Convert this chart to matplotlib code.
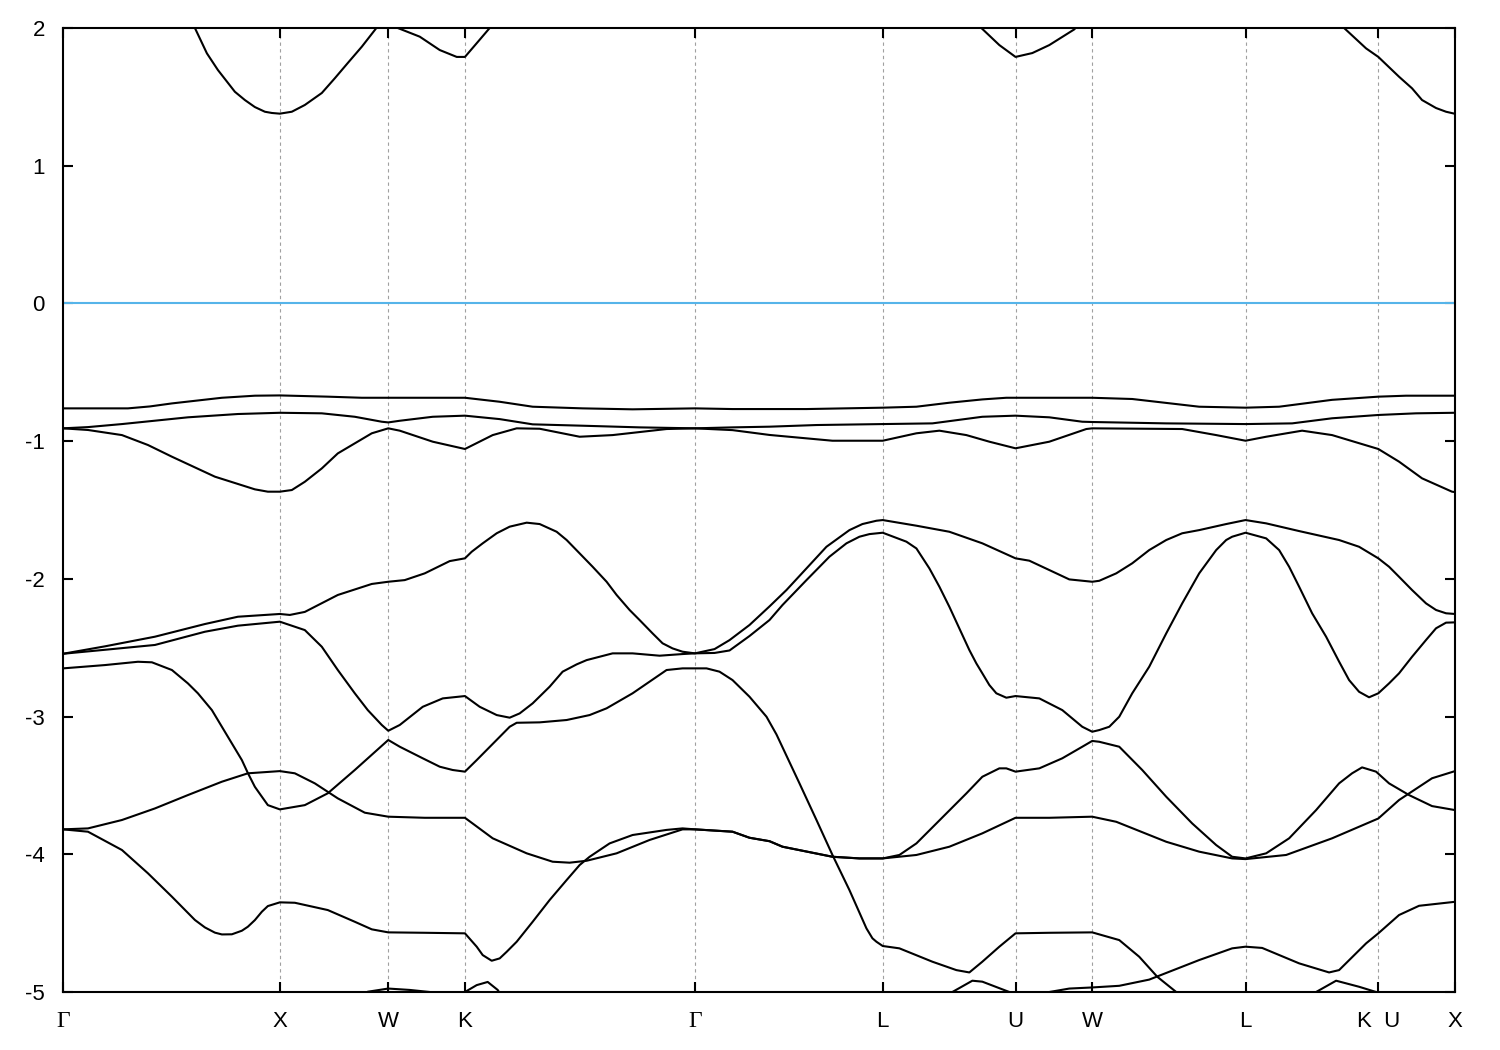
import numpy as np
import matplotlib
matplotlib.use("Agg")
import matplotlib.pyplot as plt
import matplotlib.transforms as mtransforms

plt.rcParams['font.family'] = ['Liberation Sans', 'DejaVu Sans']
plt.rcParams['axes.unicode_minus'] = False

nan = np.nan

# high-symmetry path (k in units of 2*pi/a)
tick_pos = [0, 1.0, 1.5, 1.8536, 2.9142, 3.7802, 4.3926, 4.7462, 5.4533, 6.0657, 6.4193]
tick_lab = ['Γ', 'X', 'W', 'K', 'Γ', 'L', 'U', 'W', 'L', 'K  U', 'X']
e_ticks = [-5, -4, -3, -2, -1, 0, 1, 2]

# conduction band (only parts below 2 eV visible)
k_c1 = [0.5622, 0.6083, 0.6636, 0.7143, 0.7926, 0.8387, 0.8848, 0.9309, 0.9631, 1.0, 1.0553, 1.1152, 1.1935,
        1.2535, 1.3134, 1.3779, 1.4378, 1.4839, nan,
        1.5161, 1.5438, 1.6452, 1.7373, 1.8157, 1.8536, 1.9124, 1.9677, 1.9954, nan,
        4.2028, 4.2350, 4.3180, 4.3926, 4.4700, 4.5484, 4.6636, 4.6959, nan,
        5.8756, 5.9078, 6.0092, 6.0657, 6.1613, 6.2212, 6.2673, 6.3318, 6.3779, 6.4193]
e_c1 = [2.14, 2.00, 1.816, 1.695, 1.537, 1.477, 1.426, 1.392, 1.383, 1.378, 1.392, 1.441, 1.528,
        1.635, 1.746, 1.864, 1.985, 2.08, nan,
        2.06, 2.00, 1.937, 1.84, 1.79, 1.79, 1.898, 2.00, 2.05, nan,
        2.06, 2.00, 1.876, 1.79, 1.818, 1.876, 1.99, 2.05, nan,
        2.06, 2.00, 1.852, 1.79, 1.646, 1.562, 1.477, 1.419, 1.392, 1.377]

k_v1 = [0, 0.2995, 0.4009, 0.5023, 0.7327, 0.8848, 1.0, 1.2212, 1.3779, 1.5, 1.8536, 2.0138, 2.1659, 2.3963,
        2.6267, 2.9142, 3.0876, 3.4286, 3.7802, 3.9355, 4.0876, 4.2396, 4.3502, 4.3926, 4.7462, 4.9309, 5.2396,
        5.4533, 5.6083, 5.8525, 6.0657, 6.1935, 6.4193]
e_v1 = [-0.762, -0.762, -0.748, -0.726, -0.685, -0.670, -0.668, -0.677, -0.685, -0.685, -0.685, -0.714, -0.750,
        -0.762, -0.769, -0.762, -0.767, -0.767, -0.757, -0.750, -0.721, -0.697, -0.685, -0.685, -0.685, -0.694,
        -0.750, -0.757, -0.750, -0.700, -0.677, -0.670, -0.670]

k_v2 = [0, 0.1152, 0.2719, 0.5760, 0.8065, 1.0, 1.1935, 1.3456, 1.4700, 1.5, 1.5530, 1.7051, 1.8536, 2.0138,
        2.1659, 2.3963, 2.6590, 2.9142, 3.0876, 3.2581, 3.4747, 3.7802, 4.0092, 4.2396, 4.3926, 4.5484, 4.7005,
        4.7462, 5.0876, 5.4533, 5.6682, 5.8525, 6.0657, 6.2396, 6.4193]
e_v2 = [-0.907, -0.898, -0.876, -0.827, -0.803, -0.794, -0.798, -0.823, -0.859, -0.864, -0.852, -0.823, -0.815,
        -0.840, -0.878, -0.888, -0.900, -0.907, -0.900, -0.895, -0.883, -0.876, -0.871, -0.823, -0.815, -0.827,
        -0.859, -0.861, -0.871, -0.876, -0.871, -0.834, -0.810, -0.798, -0.794]

k_v3 = [0, 0.1152, 0.2719, 0.3917, 0.5023, 0.7005, 0.8848, 0.9447, 1.0, 1.0553, 1.1152, 1.1935, 1.2673, 1.4240,
        1.5, 1.5530, 1.7051, 1.8536, 1.9816, 2.0922, 2.1982, 2.3825, 2.5346, 2.7834, 2.9142, 3.0876, 3.1659,
        3.2581, 3.3963, 3.5484, 3.7802, 3.9355, 4.0415, 4.1659, 4.2719, 4.3926, 4.5484, 4.7189, 4.7462, 5.1613,
        5.3180, 5.4533, 5.5484, 5.7143, 5.8525, 6.0657, 6.1613, 6.2673, 6.4055, 6.4193]
e_v3 = [-0.907, -0.919, -0.956, -1.028, -1.113, -1.258, -1.350, -1.367, -1.367, -1.355, -1.295, -1.198, -1.089,
        -0.943, -0.907, -0.924, -1.004, -1.057, -0.956, -0.907, -0.910, -0.968, -0.956, -0.912, -0.907, -0.920,
        -0.936, -0.955, -0.975, -0.997, -0.997, -0.943, -0.924, -0.956, -1.004, -1.052, -1.004, -0.912, -0.907,
        -0.912, -0.956, -0.997, -0.968, -0.924, -0.956, -1.057, -1.149, -1.270, -1.367, -1.370]

k_v4 = [0, 0.1935, 0.4240, 0.6544, 0.8065, 1.0, 1.0461, 1.1152, 1.2673, 1.4240, 1.5, 1.5760, 1.6682, 1.7834,
        1.8536, 1.8848, 1.9355, 2.0, 2.0599, 2.1382, 2.1982, 2.2765, 2.3226, 2.3825, 2.4424, 2.5069, 2.5530,
        2.6129, 2.6590, 2.7189, 2.7650, 2.8111, 2.8571, 2.9142,
        3.0046, 3.0737, 3.1659, 3.2581, 3.3364, 3.4286, 3.5207, 3.6267, 3.6866, 3.7512, 3.7802,
        3.9355, 4.0876, 4.2396, 4.3926, 4.4562, 4.6406, 4.7462, 4.7788, 4.8571, 4.9309, 5.0092, 5.0876, 5.1613,
        5.2396, 5.3641, 5.4533, 5.5484, 5.7005, 5.8848, 5.9770, 6.0657, 6.1152, 6.1613, 6.2212, 6.2857, 6.3318,
        6.3779, 6.4193]
e_v4 = [-2.544, -2.490, -2.420, -2.328, -2.275, -2.255, -2.262, -2.240, -2.117, -2.037, -2.021, -2.009, -1.960,
        -1.871, -1.851, -1.803, -1.742, -1.669, -1.621, -1.592, -1.602, -1.658, -1.718, -1.815, -1.912, -2.021,
        -2.117, -2.226, -2.299, -2.396, -2.468, -2.505, -2.529, -2.541,
        -2.510, -2.445, -2.335, -2.200, -2.081, -1.924, -1.767, -1.646, -1.602, -1.578, -1.573,
        -1.614, -1.658, -1.742, -1.851, -1.868, -2.004, -2.021, -2.014, -1.960, -1.887, -1.791, -1.718, -1.669,
        -1.646, -1.602, -1.573, -1.597, -1.653, -1.718, -1.767, -1.851, -1.912, -1.985, -2.081, -2.178, -2.226,
        -2.250, -2.255]

k_v5 = [0, 0.1935, 0.4240, 0.6544, 0.8065, 1.0, 1.1152, 1.1935, 1.2673, 1.3456, 1.4055, 1.4700, 1.5, 1.5530,
        1.6590, 1.7512, 1.8536, 1.9217, 2.0, 2.0599, 2.1060, 2.1659, 2.2442, 2.3041, 2.3687, 2.4147, 2.5346,
        2.6267, 2.7512, 2.8571, 2.9142,
        3.0046, 3.0737, 3.1659, 3.2581, 3.3180, 3.4286, 3.5346, 3.6129, 3.6728, 3.7189, 3.7802,
        3.8894, 3.9355, 3.9954, 4.0415, 4.0876, 4.1336, 4.1797, 4.2120, 4.2396, 4.2719, 4.3041, 4.3502, 4.3926,
        4.5023, 4.6083, 4.7005, 4.7462,
        4.7788, 4.8249, 4.8710, 4.9309, 5.0092, 5.0876, 5.1613, 5.2396, 5.3180, 5.3641, 5.3917, 5.4533,
        5.5484, 5.6083, 5.6544, 5.7005, 5.7604, 5.8249, 5.8848, 5.9309, 5.9770, 6.0230, 6.0657, 6.1152, 6.1613,
        6.2212, 6.2857, 6.3318, 6.3779, 6.4193]
e_v5 = [-2.544, -2.515, -2.480, -2.384, -2.340, -2.311, -2.372, -2.493, -2.662, -2.831, -2.953, -3.061, -3.103,
        -3.061, -2.929, -2.868, -2.851, -2.929, -2.989, -3.008, -2.977, -2.904, -2.783, -2.674, -2.621, -2.590,
        -2.541, -2.541, -2.558, -2.546, -2.541,
        -2.538, -2.520, -2.415, -2.299, -2.190, -2.009, -1.839, -1.742, -1.694, -1.675, -1.665,
        -1.730, -1.779, -1.924, -2.057, -2.203, -2.360, -2.517, -2.614, -2.686, -2.771, -2.831, -2.863, -2.851,
        -2.868, -2.953, -3.074, -3.110,
        -3.098, -3.074, -3.001, -2.831, -2.638, -2.396, -2.178, -1.960, -1.791, -1.718, -1.694, -1.665,
        -1.706, -1.791, -1.912, -2.057, -2.250, -2.420, -2.601, -2.735, -2.820, -2.860, -2.831, -2.759, -2.686,
        -2.566, -2.444, -2.359, -2.318, -2.316]

k_v6 = [0, 0.1935, 0.3456, 0.4101, 0.5023, 0.5760, 0.6221, 0.6866, 0.7327, 0.7788, 0.8249, 0.8525, 0.8848,
        0.9171, 0.9447, 1.0, 1.1152, 1.2212, 1.3456, 1.5, 1.5530, 1.6590, 1.7373, 1.7972, 1.8536, 1.9078,
        2.0599, 2.0922, 2.1982, 2.3226, 2.4286, 2.5069, 2.6267, 2.7834, 2.8571, 2.9142, 2.9677, 3.0276, 3.0876,
        3.1659, 3.2442, 3.2903, 3.3963, 3.4747, 3.5484, 3.6267, 3.7051, 3.7327, 3.7512, 3.7802, 3.8571, 4.0092,
        4.1198, 4.1797, 4.2396, 4.3180, 4.3926, 4.5484, 4.7462, 4.8710, 4.9631, 5.0461, 5.1336, 5.1705]
e_v6 = [-2.650, -2.626, -2.602, -2.606, -2.662, -2.759, -2.831, -2.953, -3.074, -3.195, -3.316, -3.410, -3.510,
        -3.582, -3.643, -3.674, -3.643, -3.557, -3.388, -3.170, -3.219, -3.303, -3.364, -3.388, -3.400, -3.316,
        -3.074, -3.045, -3.042, -3.025, -2.989, -2.940, -2.831, -2.662, -2.650, -2.650, -2.650, -2.674, -2.735,
        -2.856, -3.001, -3.130, -3.485, -3.751, -4.005, -4.260, -4.538, -4.610, -4.635, -4.666, -4.683, -4.780,
        -4.841, -4.858, -4.780, -4.671, -4.574, -4.570, -4.567, -4.623, -4.744, -4.889, -5.000, -5.060]

k_v7 = [0, 0.1152, 0.2719, 0.4240, 0.5760, 0.7327, 0.8525, 1.0, 1.0691, 1.1613, 1.2673, 1.3917, 1.5, 1.6682,
        1.8536, 1.9816, 2.1382, 2.2581, 2.3364, 2.4147, 2.5530, 2.7051, 2.8571, 2.9142, 3.0876, 3.1659, 3.2581,
        3.3180, 3.5484, 3.6728, 3.7802, 3.9355, 4.0876, 4.2396, 4.3926, 4.5484, 4.7462, 4.8571, 5.0876, 5.2396,
        5.3917, 5.4533, 5.6406, 5.8525, 6.0657, 6.1613, 6.3134, 6.4193]
e_v7 = [-3.819, -3.812, -3.751, -3.667, -3.570, -3.473, -3.412, -3.396, -3.412, -3.485, -3.594, -3.698, -3.727,
        -3.735, -3.735, -3.884, -3.993, -4.054, -4.061, -4.047, -3.993, -3.896, -3.819, -3.819, -3.836, -3.880,
        -3.905, -3.945, -4.018, -4.030, -4.030, -4.005, -3.945, -3.848, -3.735, -3.735, -3.727, -3.764, -3.909,
        -3.981, -4.030, -4.035, -4.005, -3.884, -3.740, -3.606, -3.448, -3.396]

k_v8 = [0, 0.1152, 0.2719, 0.3917, 0.5023, 0.6083, 0.6544, 0.7005, 0.7327, 0.7788, 0.8249, 0.8525, 0.8848,
        0.9171, 0.9447, 1.0, 1.0691, 1.2212, 1.3456, 1.4240, 1.5, 1.6682, 1.8536, 1.9078, 1.9355, 1.9770,
        2.0138, 2.0461, 2.0922, 2.1659, 2.2442, 2.3226, 2.3825, 2.4286, 2.5207, 2.6267, 2.7834, 2.8571, 2.9142,
        3.0876, 3.1659, 3.2581, 3.3180, 3.5484, 3.6728, 3.7802, 3.8571, 3.9355, 4.0276, 4.1659, 4.2396, 4.3180,
        4.3502, 4.3926, 4.5023, 4.6083, 4.7005, 4.7462, 4.7788, 4.8710, 4.9770, 5.0876, 5.2074, 5.3180, 5.3917,
        5.4533, 5.5484, 5.6544, 5.7788, 5.8848, 5.9447, 5.9908, 6.0553, 6.1152, 6.2074, 6.3134, 6.4193]
e_v8 = [-3.819, -3.836, -3.969, -4.138, -4.308, -4.477, -4.531, -4.569, -4.582, -4.581, -4.555, -4.526, -4.478,
        -4.417, -4.376, -4.349, -4.352, -4.405, -4.490, -4.545, -4.567, -4.570, -4.574, -4.671, -4.732, -4.773,
        -4.756, -4.708, -4.635, -4.490, -4.332, -4.187, -4.078, -4.018, -3.921, -3.860, -3.823, -3.812, -3.819,
        -3.836, -3.880, -3.905, -3.945, -4.018, -4.030, -4.030, -4.005, -3.921, -3.776, -3.558, -3.437, -3.376,
        -3.376, -3.400, -3.376, -3.303, -3.219, -3.177, -3.183, -3.219, -3.388, -3.582, -3.776, -3.933, -4.018,
        -4.030, -3.993, -3.884, -3.679, -3.485, -3.412, -3.369, -3.400, -3.485, -3.570, -3.650, -3.679]

# deeper bands peeking above -5 eV
k_v9 = [1.3687, 1.4055, 1.5, 1.5991, 1.6912, 1.7281, nan,
        1.8387, 1.8536, 1.9078, 1.9585, 2.0046, 2.0230, nan,
        4.0645, 4.1014, 4.1935, 4.2396, 4.3641, 4.3825, nan,
        4.5023, 4.5484, 4.6406, 4.7462, 4.8710, 5.0092, 5.2396, 5.3917, 5.4533, 5.5300, 5.7005, 5.8387, 5.8848,
        6.0092, 6.0657, 6.1613, 6.2535, 6.4193, nan,
        5.7465, 5.7788, 5.8710, 5.9770, 6.0553, 6.0783]
e_v9 = [-5.03, -4.998, -4.975, -4.985, -5.0, -5.03, nan,
        -5.03, -5.0, -4.95, -4.927, -4.985, -5.03, nan,
        -5.03, -5.0, -4.918, -4.925, -5.0, -5.03, nan,
        -5.03, -5.0, -4.975, -4.967, -4.955, -4.91, -4.768, -4.683, -4.671, -4.68, -4.792, -4.858, -4.841,
        -4.647, -4.574, -4.441, -4.374, -4.345, nan,
        -5.03, -5.0, -4.918, -4.962, -5.0, -5.03]

bands = [(k_c1, e_c1), (k_v1, e_v1), (k_v2, e_v2), (k_v3, e_v3), (k_v4, e_v4), (k_v5, e_v5),
         (k_v6, e_v6), (k_v7, e_v7), (k_v8, e_v8), (k_v9, e_v9)]

fig = plt.figure(figsize=(15, 10.5), dpi=100)
ax = fig.add_axes([63 / 1500, 58 / 1050, 1392 / 1500, 964 / 1050])

for t in tick_pos[1:-1]:
    ax.axvline(t, color='#a0a0a0', lw=0.8, ls=(0, (3.0, 3.0)), zorder=1)
ax.axhline(0, color='#56b4e9', lw=1.5, zorder=2)

for k, e in bands:
    ax.plot(k, e, color='black', lw=1.5, zorder=3, solid_joinstyle='round')

ax.set_xlim(tick_pos[0], tick_pos[-1])
ax.set_ylim(-5, 2)
ax.set_xticks(tick_pos)
ax.set_xticklabels(['' if t == 'Γ' else t for t in tick_lab])
ax.set_yticks(e_ticks)
ax.set_yticklabels([str(v) for v in e_ticks])

# Gamma labels in a serif face, baseline-aligned with the other labels
trans = mtransforms.blended_transform_factory(ax.transData, ax.transAxes)
for t, lab in zip(tick_pos, tick_lab):
    if lab == 'Γ':
        ax.text(t, -0.0363, lab, transform=trans, ha='center', va='baseline',
                fontsize=17, family=['Liberation Serif', 'DejaVu Serif'])

ax.tick_params(axis='both', direction='in', length=7, width=1.5, top=True, right=True,
               labelsize=16, colors='black')
ax.tick_params(axis='x', pad=14)
ax.tick_params(axis='y', pad=13)
for sp in ax.spines.values():
    sp.set_linewidth(1.5)
    sp.set_zorder(5)

fig.savefig('out.png', dpi=100)
